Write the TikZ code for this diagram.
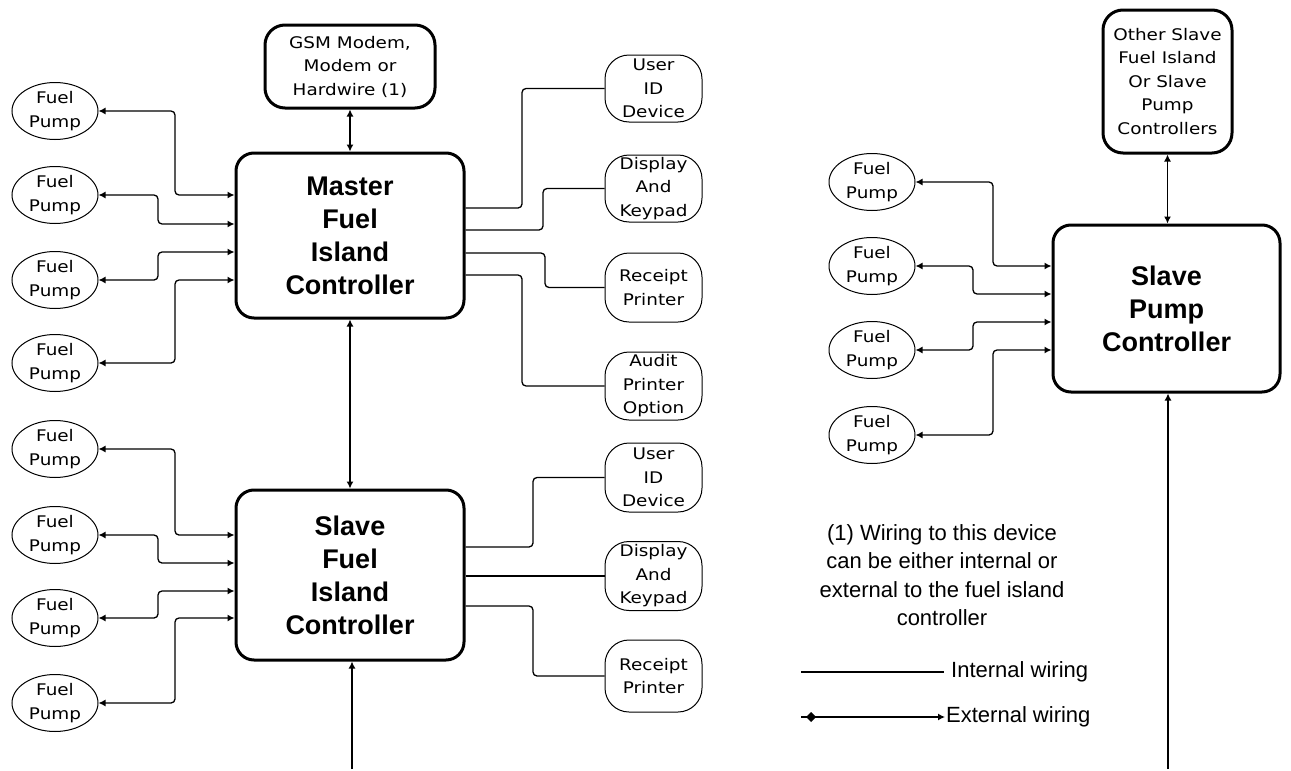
\documentclass[tikz,border=0pt]{standalone}
\usepackage{fontspec}
\setmainfont{Liberation Sans}
\newfontfamily\pix[FakeStretch=1.15]{DejaVu Sans}
\usetikzlibrary{shapes.geometric,arrows.meta}
\begin{document}
\begin{tikzpicture}[x=1pt,y=-1pt,
  ctrl/.style={draw, line width=3pt, rounded corners=18pt, inner sep=0pt, align=center,
    font=\fontsize{27}{33}\selectfont\bfseries},
  bigbox/.style={draw, line width=3pt, rounded corners=20pt, inner sep=0pt, align=center,
    font=\pix\fontsize{16}{23.5}\selectfont},
  dev/.style={draw, line width=1pt, rounded corners=24pt, minimum width=97pt, inner sep=0pt,
    align=center, font=\pix\fontsize{16}{23.5}\selectfont},
  pump/.style={draw, ellipse, line width=1pt, minimum width=86pt, minimum height=57pt,
    inner sep=0pt, align=center, font=\pix\fontsize{16}{24}\selectfont},
  wire/.style={line width=1.3pt, rounded corners=4pt},
  tip/.tip={Latex[length=7pt,width=7pt]},
  ext/.style={wire, tip-tip},
  upin/.style={wire, -tip},
  lbl/.style={inner sep=0pt, font=\fontsize{22}{28.5}\selectfont}
]
\useasboundingbox (0,0) rectangle (1291,771);

% controllers
\node[ctrl, minimum width=228pt, minimum height=165pt] (master) at (350,235.5) {Master\\Fuel\\Island\\Controller};
\node[ctrl, minimum width=228pt, minimum height=170pt] (slave) at (350,575) {Slave\\Fuel\\Island\\Controller};
\node[ctrl, minimum width=227pt, minimum height=167pt] (spc) at (1166.5,308.5) {Slave\\Pump\\Controller};
\node[bigbox, minimum width=170pt, minimum height=83pt] (gsm) at (350,66.5) {GSM Modem,\\Modem or\\Hardwire (1)};
\node[bigbox, minimum width=129pt, minimum height=143pt] (other) at (1167.5,81.5) {Other Slave\\Fuel Island\\Or Slave\\Pump\\Controllers};

% devices
\node[dev, minimum height=67pt] (uid1) at (653.5,88.5) {User\\ID\\Device};
\node[dev, minimum height=67pt] (disp1) at (653.5,188.5) {Display\\And\\Keypad};
\node[dev, minimum height=69pt] (rec1) at (653.5,287.5) {Receipt\\Printer};
\node[dev, minimum height=68pt] (aud1) at (653.5,386) {Audit\\Printer\\Option};
\node[dev, minimum height=69pt] (uid2) at (653.5,477.5) {User\\ID\\Device};
\node[dev, minimum height=69pt] (disp2) at (653.5,576) {Display\\And\\Keypad};
\node[dev, minimum height=72pt] (rec2) at (653.5,676) {Receipt\\Printer};

% pumps left
\node[pump] (p1) at (55,111) {Fuel\\Pump};
\node[pump] (p2) at (55,195) {Fuel\\Pump};
\node[pump] (p3) at (55,280) {Fuel\\Pump};
\node[pump] (p4) at (55,363) {Fuel\\Pump};
\node[pump] (p5) at (55,449) {Fuel\\Pump};
\node[pump] (p6) at (55,535) {Fuel\\Pump};
\node[pump] (p7) at (55,618) {Fuel\\Pump};
\node[pump] (p8) at (55,703) {Fuel\\Pump};
% pumps right
\node[pump] (q1) at (872,182) {Fuel\\Pump};
\node[pump] (q2) at (872,266) {Fuel\\Pump};
\node[pump] (q3) at (872,350) {Fuel\\Pump};
\node[pump] (q4) at (872,435) {Fuel\\Pump};

% pump wiring master
\draw[ext] (p1.east) -- (175,111) |- (master.west |- 0,195);
\draw[ext] (p2.east) -- (158,195) |- (master.west |- 0,224);
\draw[ext] (p3.east) -- (158,280) |- (master.west |- 0,252);
\draw[ext] (p4.east) -- (175,363) |- (master.west |- 0,280);
% pump wiring slave
\draw[ext] (p5.east) -- (175,449) |- (slave.west |- 0,535);
\draw[ext] (p6.east) -- (158,535) |- (slave.west |- 0,563);
\draw[ext] (p7.east) -- (158,618) |- (slave.west |- 0,591);
\draw[ext] (p8.east) -- (175,703) |- (slave.west |- 0,618);
% pump wiring slave pump controller
\draw[ext] (q1.east) -- (993,182) |- (spc.west |- 0,266);
\draw[ext] (q2.east) -- (973,266) |- (spc.west |- 0,294);
\draw[ext] (q3.east) -- (973,350) |- (spc.west |- 0,322);
\draw[ext] (q4.east) -- (993,435) |- (spc.west |- 0,350);

% internal wiring master
\draw[wire] (master.east |- 0,208) -- (522,208) |- (uid1.west);
\draw[wire] (master.east |- 0,230) -- (543,230) |- (disp1.west);
\draw[wire] (master.east |- 0,253) -- (545,253) |- (rec1.west);
\draw[wire] (master.east |- 0,275) -- (522,275) |- (aud1.west);
% internal wiring slave
\draw[wire] (slave.east |- 0,547) -- (533,547) |- (uid2.west);
\draw[wire] (slave.east |- disp2.west) -- (disp2.west);
\draw[wire] (slave.east |- 0,606) -- (533,606) |- (rec2.west);

% vertical links
\draw[ext] (gsm.south) -- (gsm.south |- master.north);
\draw[ext] (master.south) -- (slave.north);
\draw[ext] (other.south) -- (other.south |- spc.north);
\coordinate (b1) at (352,769);
\coordinate (b2) at (1168,769);
\draw[upin] (b1) -- (b1 |- slave.south);
\draw[upin] (b2) -- (b2 |- spc.south);

% note
\node[lbl, align=center] (note) at (942,575) {(1) Wiring to this device\\can be either internal or\\external to the fuel island\\controller};

% legend
\coordinate (i1) at (801,672);
\coordinate (i2) at (944,672);
\draw[line width=1.3pt] (i1) -- (i2);
\node[lbl, anchor=west] (itxt) at (951,672) {Internal wiring};
\coordinate (e1) at (801,717);
\coordinate (e2) at (945,717);
\draw[line width=1.3pt, -tip] (e1) -- (e2);
\fill (811,712) -- (816,717) -- (811,722) -- (806,717) -- cycle;
\node[lbl, anchor=west] (etxt) at (946,717) {External wiring};
\end{tikzpicture}
\end{document}
